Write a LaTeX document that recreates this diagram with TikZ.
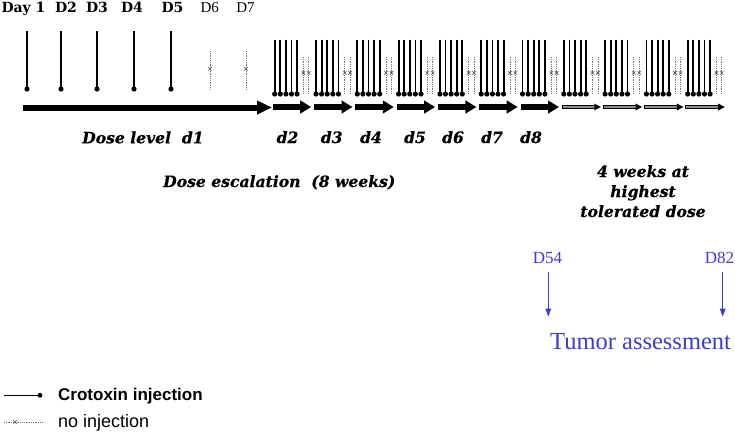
\documentclass[tikz,border=0pt]{standalone}
\usepackage{fontspec}
\setmainfont{DejaVu Serif}
\newfontfamily\bifont{DejaVu Serif}[BoldItalicFeatures={FakeBold=0.6}]
\newfontfamily\libserif{Liberation Serif}
\newfontfamily\libsans{Liberation Sans}
\usetikzlibrary{arrows.meta}
\definecolor{tblue}{RGB}{60,60,205}
\begin{document}
\begin{tikzpicture}[x=1pt,y=-1pt,
  inj/.style={line width=1.8pt, black},
  noinj/.style={black!55, line width=0.8pt, densely dotted},
  xmk/.style={black!70, line width=0.6pt},
  dayl/.style={font=\bfseries\fontsize{14}{14}\selectfont, anchor=base, inner sep=0pt},
  dayr/.style={font=\libserif\fontsize{15}{15}\selectfont, anchor=base, inner sep=0pt},
  bilab/.style={font=\bifont\bfseries\itshape\fontsize{15.6}{15.6}\selectfont, inner sep=0pt},
  bluelab/.style={font=\libserif\fontsize{17}{17}\selectfont, text=tblue, anchor=base, inner sep=0pt},
  thickarr/.style={line width=6pt, -{Triangle[length=11pt,width=12.5pt]}},
  bluearr/.style={tblue, line width=1pt, -{Triangle[length=8pt,width=5.5pt]}}
]
\useasboundingbox (0,0) rectangle (735,432);

% day labels
\node[dayl] (day1) at (23.5,12) {Day 1};
\node[dayl] (day2) at (66,12) {D2};
\node[dayl] (day3) at (97,12) {D3};
\node[dayl] (day4) at (132,12) {D4};
\node[dayl] (day5) at (172.5,12) {D5};
\node[dayr] (day6) at (209.7,12) {D6};
\node[dayr] (day7) at (245.5,12) {D7};

% week 1
\foreach \x in {27,61,97,134,171} {
  \draw[inj] (\x,31) -- (\x,89);
  \fill (\x,89) circle (2.6);
}
\foreach \x in {210,246} {
  \draw[noinj] (\x,51) -- (\x,89);
  \draw[xmk] (\x-1.7,67.3) -- (\x+1.7,70.7) (\x-1.7,70.7) -- (\x+1.7,67.3);
}
\draw[line width=6pt, -{Triangle[length=15pt,width=13pt]}] (23,107.5) -- (272,107.5);

% weeks 2 - 12
\foreach \k in {0,...,10} {
  \pgfmathsetmacro\s{274.7+41.3*\k}
  \foreach \i in {0,...,4} {
    \pgfmathsetmacro\xx{\s+5.6*\i}
    \draw[inj] (\xx,39.5) -- (\xx,94);
    \fill (\xx,94) circle (2.6);
  }
  \foreach \o in {28.7,34.1} {
    \pgfmathsetmacro\xx{\s+\o}
    \draw[noinj] (\xx,57) -- (\xx,94);
    \draw[xmk] (\xx-1.7,71.3) -- (\xx+1.7,74.7) (\xx-1.7,74.7) -- (\xx+1.7,71.3);
  }
}
\foreach \k in {0,...,6} {
  \pgfmathsetmacro\s{274.7+41.3*\k}
  \draw[thickarr] (\s-2,107) -- (\s+36.5,107);
}
\foreach \k in {7,...,10} {
  \pgfmathsetmacro\s{274.7+41.3*\k}
  \filldraw[fill=black!45, draw=black, line width=0.5pt] (\s-2,105.6) rectangle (\s+31,108.4);
  \fill (\s+30.5,103.5) -- (\s+37,107) -- (\s+30.5,110.5) -- cycle;
}

% dose labels
\node[bilab, anchor=base west] (d1) at (82,143.3) {Dose level~~d1};
\node[bilab, anchor=base] (d2) at (287.5,143) {d2};
\node[bilab, anchor=base] (d3) at (331.7,143) {d3};
\node[bilab, anchor=base] (d4) at (371,143) {d4};
\node[bilab, anchor=base] (d5) at (415,143) {d5};
\node[bilab, anchor=base] (d6) at (453,143) {d6};
\node[bilab, anchor=base] (d7) at (492,143) {d7};
\node[bilab, anchor=base] (d8) at (531,143) {d8};
\node[bilab, anchor=base west] (esc) at (163,187) {Dose escalation~~(8 weeks)};
\node[bilab, anchor=base] (hw1) at (643,177) {4 weeks at};
\node[bilab, anchor=base] (hw2) at (643,197) {highest};
\node[bilab, anchor=base] (hw3) at (643,217) {tolerated dose};

% tumor assessment
\node[bluelab] (d54) at (547.5,263.3) {D54};
\node[bluelab] (d82) at (719.5,263.3) {D82};
\coordinate (a54s) at (548.3,271.7);
\coordinate (a54e) at (548.3,316.7);
\coordinate (a82s) at (722.7,271.7);
\coordinate (a82e) at (722.7,316.7);
\draw[bluearr] (a54s) -- (a54e);
\draw[bluearr] (a82s) -- (a82e);
\node[font=\libserif\fontsize{24.5}{24.5}\selectfont, text=tblue, anchor=base west, inner sep=0pt] (tum) at (550,349.3) {Tumor assessment};

% legend
\coordinate (l1a) at (4,395.3);
\coordinate (l1b) at (40,395.3);
\draw[line width=1.5pt] (l1a) -- (l1b);
\fill (l1b) circle (2.4);
\node[font=\libsans\bfseries\fontsize{17}{17}\selectfont, anchor=base west, inner sep=0pt] (leg1) at (58,400.3) {Crotoxin injection};
\coordinate (l2a) at (4,422);
\coordinate (l2b) at (42,422);
\draw[noinj] (l2a) -- (l2b);
\draw[xmk] (13.3,420.3) -- (16.7,423.7) (13.3,423.7) -- (16.7,420.3);
\node[font=\libsans\fontsize{18}{18}\selectfont, anchor=base west, inner sep=0pt] (leg2) at (58,427.7) {no injection};
\end{tikzpicture}
\end{document}
